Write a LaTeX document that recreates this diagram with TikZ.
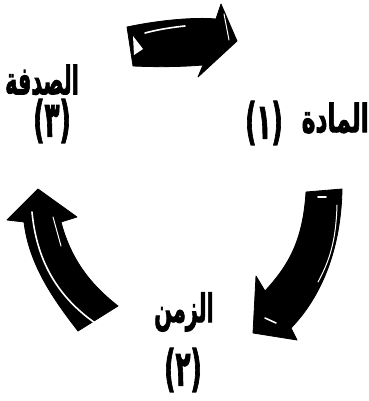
\documentclass[tikz,border=0pt]{standalone}
\usepackage{fontspec}
\TeXXeTstate=1
\newfontfamily\arabicfont[Script=Arabic, BoldFeatures={FakeBold=2.5}]{DejaVu Sans}
\begin{document}
\begin{tikzpicture}[x=1pt,y=-1pt,
  lbl/.style={inner sep=0pt, font=\arabicfont\bfseries\fontsize{26}{30}\selectfont},
  arrowbody/.style={fill=black, draw=black, line width=0.8pt, line join=round},
  shine/.style={draw=white, line width=1.6pt, line cap=round}]
\useasboundingbox (0,0) rectangle (368,401);

% top arrow (pointing right)
\path[arrowbody] (127,27) .. controls (160,20) and (195,17) .. (216,19)
  -- (221,4) -- (237,41) -- (198,77) -- (203,65)
  .. controls (180,67) and (155,67) .. (133,66) -- cycle;
\fill[white] (133,36) -- (143,49) -- (134,55) -- cycle;
\draw[shine] (145,33) .. controls (160,29) and (175,27) .. (185,26);
\draw[shine, line width=1pt] (224,14) -- (229,40);

% right arrow (pointing down-left)
\path[arrowbody] (306,192) -- (342,189)
  .. controls (341,250) and (321,297) .. (291,328)
  -- (297,340) -- (253,333) -- (256,276) -- (265,291)
  .. controls (289,265) and (303,240) .. (306,192) -- cycle;
\draw[shine, line width=1pt] (337,205) .. controls (336,240) and (330,260) .. (318,282);
\draw[shine] (318,197) -- (326,197);
\draw[shine] (265,318) -- (276,323);

% left arrow (pointing up)
\path[arrowbody] (38,189) -- (77,217) -- (61,222)
  .. controls (71,260) and (91,285) .. (118,306)
  -- (78,331)
  .. controls (54,300) and (29,265) .. (24,222)
  -- (7,220) -- cycle;
\draw[shine] (32,212) .. controls (37,265) and (61,300) .. (98,325);
\draw[shine, line width=1pt] (53,217) -- (61,246);

% labels
\node[lbl] (sadfa) at (42,80) {\scalebox{0.8}[1.5]{\beginR الصدفة\endR}};
\node[lbl] (n3) at (52,121) {\scalebox{0.95}[1.9]{(٣)}};
\node[lbl, anchor=east] (madda) at (369,118) {\scalebox{0.9}[1.5]{\beginR المادة\endR}};
\node[lbl] (n1) at (264,123) {\scalebox{0.95}[1.9]{(١)}};
\node[lbl] (zaman) at (184,312) {\scalebox{0.8}[1.5]{\beginR الزمن\endR}};
\node[lbl] (n2) at (183,370) {\scalebox{0.95}[1.9]{(٢)}};
\end{tikzpicture}
\end{document}
